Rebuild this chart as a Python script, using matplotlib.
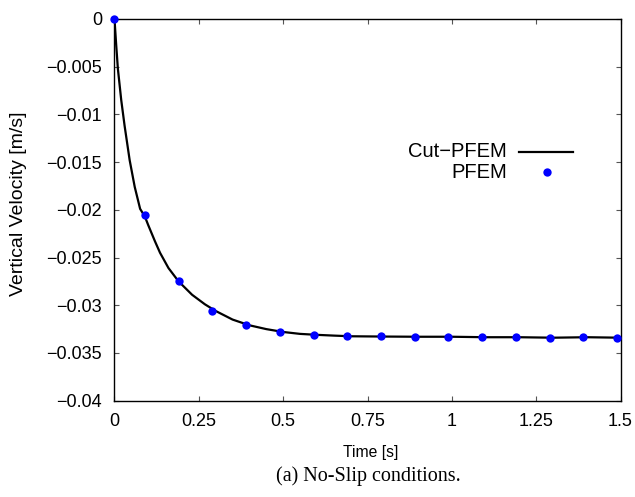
import numpy as np
import matplotlib
matplotlib.use("Agg")
import matplotlib.pyplot as plt

# Cut-PFEM (continuous curve)
cut_t = [0, 0.005, 0.01, 0.02, 0.03, 0.045, 0.06, 0.076, 0.09, 0.1, 0.12,
         0.135, 0.16, 0.19, 0.23, 0.268, 0.3, 0.35, 0.4, 0.45, 0.5, 0.55, 0.6,
         0.65, 0.7, 0.8, 0.9, 1.0, 1.1, 1.2, 1.3, 1.4, 1.5]
cut_v = [0, -0.0027, -0.0052, -0.0085, -0.0112, -0.0148, -0.0176, -0.0199,
         -0.0207, -0.0216, -0.0233, -0.0245, -0.0261, -0.0275, -0.0289,
         -0.0299, -0.0306, -0.0315, -0.0321, -0.0325, -0.0328, -0.0330,
         -0.0331, -0.03318, -0.03325, -0.03328, -0.0333, -0.0333, -0.03335,
         -0.03335, -0.0334, -0.03335, -0.0334]

# PFEM (points)
pfem_t = [0, 0.09, 0.19, 0.29, 0.39, 0.49, 0.59, 0.69, 0.79, 0.89, 0.99,
          1.09, 1.19, 1.29, 1.39, 1.49]
pfem_v = [0, -0.0205, -0.0275, -0.0306, -0.0321, -0.0328, -0.0331, -0.03326,
          -0.03326, -0.03333, -0.03333, -0.03333, -0.03333, -0.0334, -0.03333,
          -0.0334]

x_ticks = [0, 0.25, 0.5, 0.75, 1, 1.25, 1.5]
x_labels = ["0", "0.25", "0.5", "0.75", "1", "1.25", "1.5"]
y_ticks = [0, -0.005, -0.01, -0.015, -0.02, -0.025, -0.03, -0.035, -0.04]
y_labels = ["0", "\u22120.005", "\u22120.01", "\u22120.015", "\u22120.02",
            "\u22120.025", "\u22120.03", "\u22120.035", "\u22120.04"]

plt.rcParams['font.family'] = ['Liberation Sans', 'DejaVu Sans']

fig = plt.figure(figsize=(6.35, 4.97), dpi=100)
ax = fig.add_axes([0.1803, 0.1938, 0.7969, 0.768])

ax.plot(cut_t, cut_v, color='black', lw=1.6, zorder=2)
ax.plot(pfem_t, pfem_v, 'o', color='#0000ff', ms=6, mec='none', zorder=3,
        clip_on=False)

ax.set_xlim(0, 1.5)
ax.set_ylim(-0.04, 0)
ax.set_xticks(x_ticks)
ax.set_xticklabels(x_labels)
ax.set_yticks(y_ticks)
ax.set_yticklabels(y_labels)
ax.tick_params(direction='in', top=True, right=True, length=3.5, width=0.8,
               color='#555555', labelsize=13, pad=9)
for s in ax.spines.values():
    s.set_linewidth(1.0)

# legend, gnuplot style (text right aligned, sample on the right)
ax.text(0.775, 0.6516, "Cut\u2212PFEM", transform=ax.transAxes, ha='right',
        va='center', fontsize=14.5)
ax.text(0.775, 0.599, "PFEM", transform=ax.transAxes, ha='right',
        va='center', fontsize=14.5)
ax.plot([0.799, 0.906], [0.6516, 0.6516], color='black', lw=1.6,
        transform=ax.transAxes)
ax.plot([0.855], [0.599], 'o', color='#0000ff', ms=6, mec='none',
        transform=ax.transAxes)

fig.text(19 / 635, 1 - 204 / 497, "Vertical Velocity [m/s]", rotation=90,
         ha='center', va='center', fontsize=14)
fig.text(371 / 635, 1 - 453 / 497, "Time [s]", ha='center', va='center',
         fontsize=11.3)
fig.text(368 / 635, 1 - 476 / 497, "(a) No-Slip conditions.", ha='center',
         va='center', fontsize=14.5, family=['Liberation Serif', 'DejaVu Serif'])

fig.savefig("out.png", dpi=100)
